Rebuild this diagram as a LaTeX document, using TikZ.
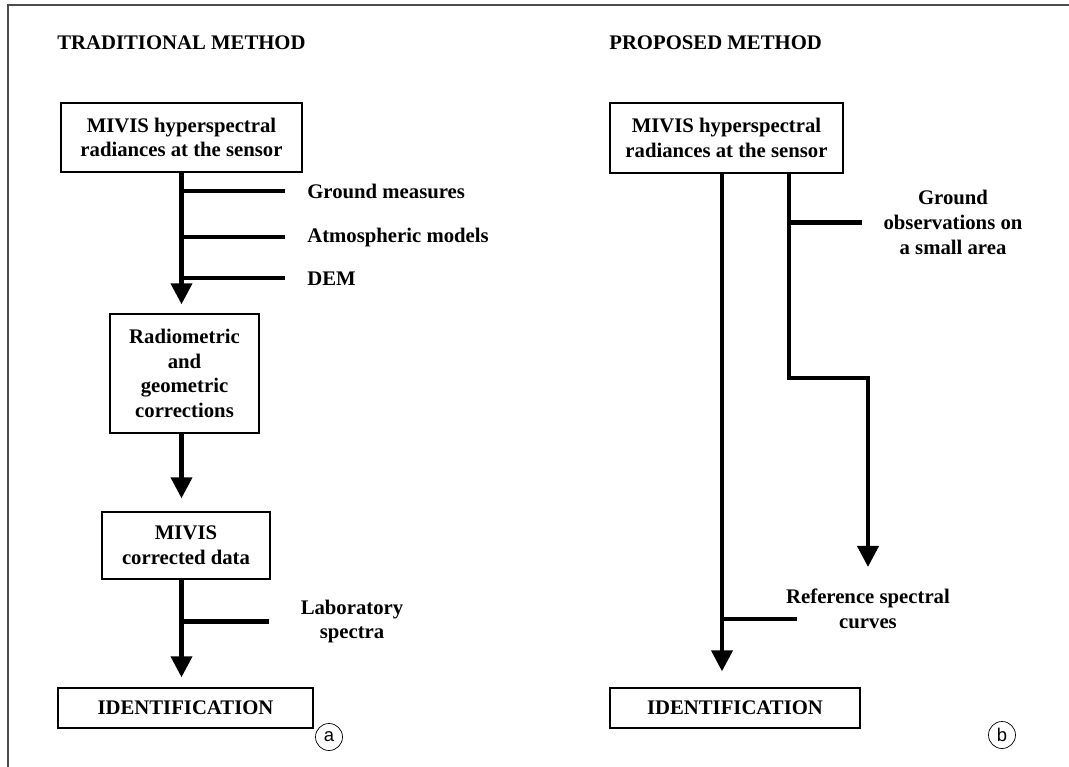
\documentclass[tikz,border=0pt]{standalone}
\usepackage{fontspec}
\setmainfont{Liberation Serif}
\newfontfamily\tagfont{Liberation Sans}
\usetikzlibrary{arrows.meta,positioning}

\begin{document}
\begin{tikzpicture}[
    x = 0.02cm, % one unit = one pixel of the scan
    y = -0.02cm, % y runs downwards
    > = {Triangle[length=4.2mm,width=4.2mm]}, % arrow head style
    font = \fontsize{11.8}{14}\selectfont\bfseries
    ]

    \tikzset{
    box/.style = {draw, line width=0.8pt, align=center, inner sep=0pt},
    lbl/.style = {align=center, inner sep=0pt},
    flow/.style = {->, line width=2.3pt},
    branch/.style = {line width=2.3pt},
    tag/.style = {draw, circle, line width=0.4pt, minimum size=5.4mm,
      inner sep=0pt, font=\tagfont\fontsize{10.5}{12}\selectfont}
    }

    \useasboundingbox (0,0) rectangle (1069,767);
    \draw[gray!60!black, line width=1pt] (8,767) -- (8,5) -- (1069,5);

    % traditional method
    \node[lbl, anchor=west] (titleA) at (57,43) {TRADITIONAL METHOD};
    \node[box, minimum width=4.82cm, minimum height=1.38cm] (srcA) at (181.5,137.5) {MIVIS hyperspectral\\radiances at the sensor};
    \node[box, minimum width=2.98cm, minimum height=2.38cm] (corrA) at (184.5,373.5) {Radiometric\\and\\geometric\\corrections};
    \node[box, minimum width=3.36cm, minimum height=1.34cm] (dataA) at (186,545.5) {MIVIS\\corrected data};
    \node[box, minimum width=5.1cm, minimum height=0.8cm] (idA) at (185.5,708) {IDENTIFICATION};

    \node[lbl, anchor=base west] (gmA) at (307,198) {Ground measures};
    \node[lbl, anchor=base west] (amA) at (307,242) {Atmospheric models};
    \node[lbl, anchor=base west] (demA) at (307,285) {DEM};
    \node[lbl] (labA) at (352,621.5) {Laboratory\\spectra};
    \node[tag] (tagA) at (329,737) {a};

    \draw[flow, shorten >=0.18cm] (srcA.south) -- (srcA.south |- corrA.north);
    \draw[flow, shorten >=0.26cm] (corrA.south -| srcA.south) -- (srcA.south |- dataA.north);
    \draw[flow, shorten >=0.2cm] (dataA.south -| srcA.south) -- (srcA.south |- idA.north);

    \draw[branch, shorten >=0.44cm] (gmA.west -| srcA.south) -- (gmA.west);
    \draw[branch, shorten >=0.44cm] (amA.west -| srcA.south) -- (amA.west);
    \draw[branch, shorten >=0.44cm] (demA.west -| srcA.south) -- (demA.west);
    \draw[branch, shorten >=0.62cm] (labA.west -| srcA.south) -- (labA.west);

    % proposed method
    \node[lbl, anchor=west] (titleB) at (609,43) {PROPOSED METHOD};
    \node[box, minimum width=4.66cm, minimum height=1.4cm] (srcB) at (726.5,138) {MIVIS hyperspectral\\radiances at the sensor};
    \node[box, minimum width=5cm, minimum height=0.8cm] (idB) at (735,708) {IDENTIFICATION};

    \node[lbl] (gobB) at (953,222.5) {Ground\\observations on\\a small area};
    \node[lbl] (refB) at (868,609) {Reference spectral\\curves};
    \node[tag] (tagB) at (1002,735) {b};

    \coordinate (forkL) at (722,0);
    \coordinate (forkR) at (789,0);
    \coordinate (bend) at (789,378);
    \coordinate (refcut) at (797,619);

    \draw[flow, shorten >=0.32cm] (srcB.south -| forkL) -- (idB.north -| forkL);
    \draw[flow, shorten >=0.44cm] (srcB.south -| forkR) -- (bend) -| (refB.north);
    \draw[branch, shorten >=0.42cm] (gobB.west -| forkR) -- (gobB.west);
    \draw[branch] (refcut -| forkL) -- (refcut);
\end{tikzpicture}
\end{document}
